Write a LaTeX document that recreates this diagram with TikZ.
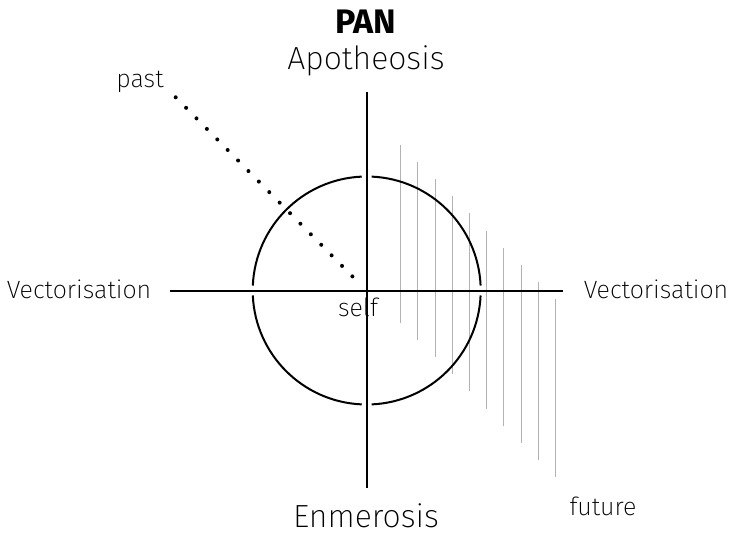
\documentclass[tikz,border=0pt]{standalone}
\usepackage{fontspec}
\setmainfont{Fira Sans ExtraLight}[BoldFont=Fira Sans Bold]
\begin{document}
\begin{tikzpicture}[
        x=1pt, y=-1pt,
        axis/.style={line width=2pt},
        ring/.style={line width=2pt},
        pastline/.style={line width=4pt, line cap=round, dash pattern=on 0pt off 14.8pt},
        futureline/.style={line width=1pt, color=black!30},
        pole/.style={font=\fontsize{32}{36}\selectfont, anchor=base},
        side/.style={font=\fontsize{25}{28}\selectfont, anchor=base},
        every node/.style={inner sep=0pt}
    ]

    \useasboundingbox (0,0) rectangle (735,538);

    \coordinate (centre) at (366.7,290.5);

    \node[font=\fontsize{34}{38}\selectfont\bfseries, anchor=base] (title) at (366,33) {PAN};
    \node[pole] (apotheosis) at (366,69) {Apotheosis};
    \node[pole] (enmerosis) at (366,527) {Enmerosis};
    \node[side] (vecleft) at (79,298) {Vectorisation};
    \node[side] (vecright) at (656,298) {Vectorisation};
    \node[side] (self) at (358,316) {self};
    \node[side] (past) at (140,87) {past};
    \node[side] (future) at (603,515) {future};

    % future lines
    \foreach \i in {0,...,9}
        \draw[futureline] (400.7+17.2*\i,145+17.1*\i) -- ++(0,178);

    % the cross
    \coordinate (top) at (366.7,92);
    \coordinate (bottom) at (366.7,488);
    \coordinate (left) at (170,290.5);
    \coordinate (right) at (563,290.5);
    \draw[axis] (top) -- (bottom);
    \draw[axis] (left) -- (right);

    % the ring, broken at the axes
    \foreach \a in {0,90,180,270}
        \draw[ring] ([shift={(centre)}]\a+2.5:114)
            arc[start angle=\a+2.5, end angle=\a+87.5, radius=114];

    % past
    \coordinate (pastend) at (175.7,97.3);
    \coordinate (now) at (353,277);
    \draw[pastline] (pastend) -- (now);

\end{tikzpicture}
\end{document}
